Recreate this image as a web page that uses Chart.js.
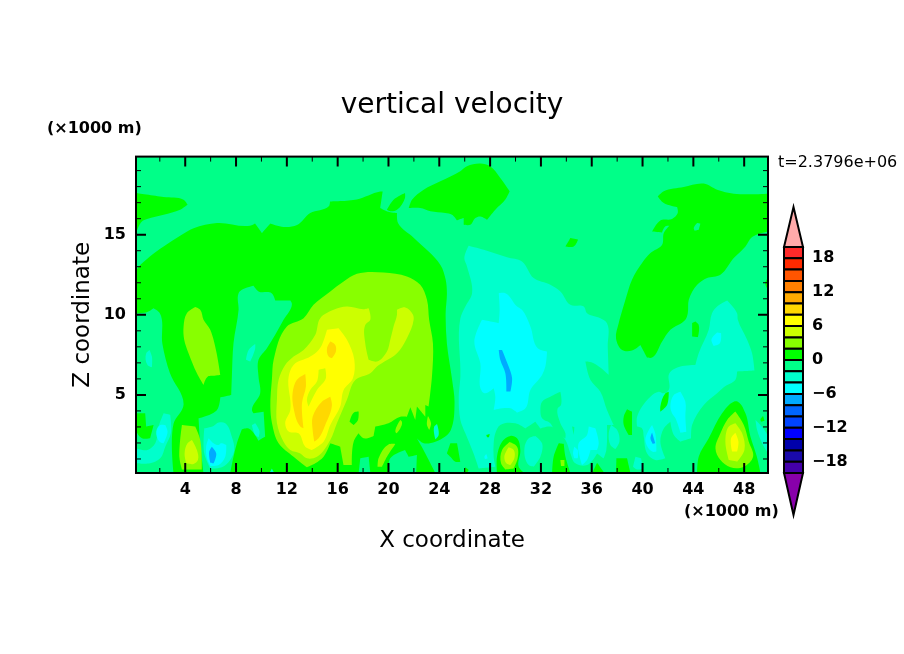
<!DOCTYPE html>
<html><head><meta charset="utf-8">
<style>html,body{margin:0;padding:0;background:#fff;width:904px;height:654px;overflow:hidden}
canvas{position:absolute}</style>
<script src="https://cdn.jsdelivr.net/npm/chart.js@4/dist/chart.umd.js"></script>
</head><body>
<canvas id="main" width="904" height="654" style="left:0;top:0;width:904px;height:654px"></canvas>
<canvas id="bar" width="134" height="330" style="left:770px;top:200px;width:134px;height:330px"></canvas>
<script>
const FONT="'DejaVu Sans'";
const titleText="vertical velocity", xTitle="X coordinate", yTitle="Z coordinate", unitText="(×1000 m)", timeText="t=2.3796e+06";
const xRange=[0.125,49.875], yRange=[0.125,19.875];
const xTicks=[4,8,12,16,20,24,28,32,36,40,44,48];
const xMinor=[2,6,10,14,18,22,26,30,34,38,42,46];
const yTicks=[5,10,15];
const yMinor=[1,2,3,4,6,7,8,9,11,12,13,14,16,17,18,19];
const barTicks=[18,12,6,0,-6,-12,-18];
const levelEdges=[-20,-18,-16,-14,-12,-10,-8,-6,-4,-2,0,2,4,6,8,10,12,14,16,18,20];
const levelColors=['#4400aa','#1a0aaa','#0000aa','#0000ff','#0044ff','#0066ff','#00aaff','#00ffff','#00ffcc','#00ff88','#00ff00','#88ff00','#ccff00','#ffff00','#ffd800','#ffaa00','#ff8000','#ff5500','#ff2a00','#ff2a2a'];
const overColor='#ffaaaa', underColor='#8800aa', overTip=27.08, underTip=-27.43;
const A='#00ff88',G='#00ff00',L='#88ff00',C='#ccff00',Y='#ffff00',O='#ffd800',T='#00ffcc',S='#00ffff',B='#00aaff';

const base=[[0.125,0.125],[49.875,0.125],[49.875,19.875],[0.125,19.875]];
const greenMain=[[0.125,12.7],[1.24,13.65],[2.3,14.27],[3.6,14.93],[4.66,15.4],[6.5,15.73],[9.1,15.56],[9.5,15.7],[10.04,15.1],[10.7,15.7],[11.74,15.48],[12.8,15.6],[13.84,16.35],[15.3,16.77],[15.4,17.08],[17.5,17.2],[19.35,17.7],[19.54,17.7],[19.35,16.66],[19.9,16.45],[20.67,16.35],[20.75,15.73],[22,14.8],[24.1,13.1],[24.5,12.2],[24.6,11.35],[24.5,10.1],[24.6,8.2],[25,6],[25.2,4.5],[24.9,2.8],[24.47,2.4],[23.69,2.08],[22.77,1.98],[22.24,2.29],[22.9,1.35],[23.69,0.125],[3.08,0.125],[3.08,3.2],[3.87,4.4],[2.8,6.35],[2.2,8.2],[2,10.1],[1.5,10.41],[0.98,10.16],[0.125,10.1]];
const greenLeftLow=[[0.125,3.85],[0.85,3.85],[0.93,3.02],[1.51,3.12],[1.24,2.29],[0.59,2.29],[0.125,2.81]];
const greenMidLow=[[24.6,1.35],[24.87,1.98],[25.4,1.98],[25.66,0.83],[25.26,0.83],[24.87,1.14]];
const greenTopLeft=[[0.125,17.6],[2.3,17.35],[3.87,17.18],[4.18,16.87],[3.6,16.56],[2.3,16.25],[1,15.98],[0.59,15.83],[0.125,15.1]];
const greenSliver=[[19.88,16.56],[20.4,17.18],[21.3,17.6],[21.3,17.29],[20.67,16.56],[20.14,16.46]];
const greenIsland=[[21.6,16.66],[21.85,17.18],[22.77,17.81],[24.08,18.33],[25.65,18.96],[26.18,19.27],[27.23,19.44],[28,19.27],[28.8,18.54],[29.54,17.71],[29.2,17.19],[28.41,16.56],[27.76,15.93],[27.23,16.14],[26.84,16.04],[26.44,15.62],[25.92,15.62],[25.92,16.04],[25.39,15.9],[25,16.25],[24.47,16.35],[23.3,16.46],[22.5,16.66]];
const greenDot=[[33.93,14.27],[34.32,14.79],[34.92,14.69],[34.58,14.27]];
const greenRight=[[41.2,17.39],[41.67,17.71],[43.24,17.98],[44.82,18.19],[45.87,17.81],[47.18,17.56],[49.875,17.56],[49.875,15.2],[48.62,14.85],[48.1,14.27],[47.18,13.54],[46.13,12.5],[45.08,12.29],[44.3,11.87],[43.64,10.94],[43.56,10.1],[43.37,9.69],[42.19,9.06],[41.54,8.33],[40.75,7.33],[40.36,7.33],[39.83,8.12],[39.17,7.77],[38.39,7.81],[37.91,8.54],[38.12,9.48],[38.26,9.89],[38.65,10.94],[39.17,12.19],[39.96,13.23],[40.62,13.85],[41.54,14.37],[41.67,15.1],[42.11,15.56],[41.8,15.52],[41.54,15.14],[40.75,15.2],[41.4,15.89],[42.32,15.98],[42.77,16.35],[42.72,16.73],[41.67,16.98]];
const greenEdge=[[49.65,11.98],[49.875,12.3],[49.875,11.56]];
const greenSpot=[[43.9,9.48],[44.16,9.58],[44.42,9.37],[44.35,8.6],[43.9,8.64]];
const holeRight=[[44.03,15.41],[44.3,15.73],[44.55,15.69],[44.42,15.31],[44.11,15.25]];
const patchLeft=[[8.2,11.35],[8.46,11.56],[9.38,11.81],[9.77,11.46],[10.8,11.35],[11.09,10.89],[12.27,10.89],[12.4,10.68],[11.74,9.69],[10.43,7.91],[9.77,7.19],[9.77,6.14],[9.9,5.1],[9.25,4.06],[9.38,3.85],[10.17,3.95],[10.3,2.4],[9.77,2.14],[8.99,2.91],[8.46,2.85],[8.07,1.98],[7.8,1.14],[7.54,0.125],[5.44,0.125],[5.18,1.98],[5.05,3.54],[6.5,4.06],[6.76,4.85],[7.62,5],[7.67,6.14],[7.8,8.23],[8.2,10.31]];
const patchBot1=[[17.65,0.125],[17.78,1.04],[18.44,1.14],[18.57,0.125]];
const patchBot2=[[20,0.125],[20.14,1.04],[21.3,1.56],[21.59,1.14],[22.24,1.25],[22.19,0.125]];
const tealCentre=[[25.97,13.54],[26.31,14.31],[27.5,14.06],[29.33,13.6],[30.51,13.33],[31.43,12.29],[32.74,11.87],[33.53,11.46],[34.32,10.62],[35.37,10.52],[35.63,10.1],[36.68,9.79],[37.2,9.48],[37.26,8.02],[37.34,6.25],[36.15,6.98],[35.5,7.08],[35.9,5.93],[36.68,5.2],[37.2,4.06],[37.73,3.12],[37.2,3.12],[37.15,1.56],[36.94,1.04],[36.42,1.35],[35.63,0.62],[34.71,0.73],[34.32,1.35],[33.93,2.19],[32.8,3.02],[31.96,2.91],[31.56,3.33],[31.17,3.12],[30.78,2.91],[29.99,3.23],[28.8,3.12],[28.41,2.6],[28.28,1.98],[28.28,1.14],[28.41,0.52],[27.1,0.41],[26.7,1.35],[26.05,2.6],[25.66,3.44],[25.53,4.89],[25.66,6.14],[25.66,9.79],[26.05,10.52],[26.58,11.35],[26.18,13.02]];
const tealBlob1=[[30.7,1.66],[31.04,2.29],[31.56,2.44],[32.09,1.98],[31.96,1.14],[31.43,0.52],[31.04,0.62]];
const tealBlob2=[[37.34,2.6],[37.52,3.12],[38,2.81],[38.18,2.08],[37.86,1.62],[37.47,1.87]];
const tealBlob3=[[39.25,0.52],[39.44,1.14],[39.88,1.04],[40.04,0.41],[39.57,0.35]];
const tealRight=[[45.47,10.1],[45.87,10.52],[46.66,10.89],[47.44,10.1],[47.5,9.69],[48.23,8.44],[48.62,7.6],[48.81,6.52],[47.44,6.46],[47.31,5.94],[46.39,5.48],[45.87,5.1],[44.82,4.37],[43.9,3.12],[43.82,2.29],[42.98,2.08],[42.46,2.5],[42.19,3.33],[41.67,2.91],[41.4,2.08],[41.8,1.04],[41,0.94],[40.36,1.35],[40.09,2.4],[39.96,2.91],[39.57,3.02],[39.57,3.64],[40.62,4.89],[41.27,5.2],[41.67,5.1],[42.06,5.31],[42.11,6.35],[42.98,6.77],[44.16,6.87],[44.42,7.6],[45.21,9.06]];
const tealEdge=[[48.89,3.44],[49.15,3.23],[49.875,2.4],[49.875,1.35],[49.41,1.98],[49.02,2.81]];
const tealLeft1=[[0.93,7.6],[1.19,7.81],[1.38,7.39],[1.38,6.73],[1.03,6.87]];
const tealLeft2=[[0.125,1.67],[1.03,1.56],[1.64,1.98],[1.9,3.02],[2.3,3.85],[2.82,3.75],[2.87,2.6],[2.43,1.77],[2.03,1.04],[1.24,0.73],[0.125,0.73]];
const tealLow=[[5.5,2.91],[6.23,3.06],[6.63,3.27],[7.15,3.23],[7.67,2.39],[7.86,1.56],[7.54,0.94],[6.89,0.48],[5.97,0.41],[5.5,1.35]];
const tealStreak=[[8.78,7.19],[8.99,7.81],[9.51,8.18],[9.51,7.91],[9.12,7.08]];
const tealSpot=[[9.25,3.12],[9.51,3.23],[9.85,2.71],[9.77,2.35],[9.51,2.5]];
const tealBot=[[10.64,0.125],[10.82,0.41],[11,0.125]];
const tealSmall=[[23.6,3.02],[23.82,3.19],[23.95,2.5],[23.69,2.23]];
const isle1=[[31.96,4.06],[32.09,4.58],[32.74,4.89],[33.53,5.2],[33.58,4.37],[33.32,4.16],[33.53,3.23],[33.93,2.6],[33.93,2.29],[33,2.91],[32.74,3.23],[32.09,3.54]];
const isle2=[[34.45,3.02],[34.63,2.98],[34.58,2.5]];
const greenC1=[[38.52,3.64],[38.78,4.1],[39.17,3.95],[39.17,2.5],[38.91,2.5],[38.52,3.12]];
const greenC2=[[41.4,4.27],[41.8,5.1],[42.06,5.2],[41.93,4.37],[41.4,3.95]];
const greenC3=[[25.92,0.2],[26.05,0.48],[26.31,0.31],[26.18,0.125]];
const greenC4=[[27.7,2.5],[27.97,2.56],[27.91,2.35],[27.76,2.35]];
const greenC5=[[49.28,3.48],[49.49,3.69],[49.6,3.39],[49.33,3.33]];
const green29=[[28.54,0.125],[28.54,1.14],[28.94,2.08],[29.6,2.44],[30.12,2.29],[30.38,1.56],[30.25,0.52],[30.7,0.125]];
const green33=[[32.88,0.125],[33,1.14],[33.4,1.98],[33.8,1.94],[33.93,1.14],[34.32,0.125]];
const green36=[[36.03,0.125],[36.42,0.77],[37,0.125]];
const green38=[[37.91,0.125],[37.94,1.04],[38.78,1.04],[39.04,0.125]];
const green47=[[44.29,0.125],[44.42,1.14],[45.21,2.29],[46.26,3.85],[47.18,4.58],[47.5,4.58],[48.1,3.85],[48.49,2.4],[49,1.14],[49.28,0.125]];
const limeMain=[[13.32,9.79],[14.1,10.62],[15.42,11.46],[16.47,12.08],[17.52,12.56],[19.62,12.64],[21.45,12.39],[22.5,11.87],[23.03,10.94],[23.2,9.69],[23.5,8.23],[23.42,6.14],[23.16,4.27],[22.9,4.37],[22.9,3.64],[22.24,4.27],[22.11,3.44],[21.72,4.23],[21.45,3.64],[20.93,3.64],[20,3.23],[18.96,3.02],[18.83,2.44],[18.04,2.29],[17.65,2.6],[17.26,2.08],[17.12,0.62],[16.47,0.62],[16.2,1.77],[15.42,1.98],[14.89,1.14],[14.24,0.73],[13.58,0.48],[12.53,1.14],[11.35,1.98],[10.83,3.23],[10.7,4.27],[10.83,6.04],[10.96,7.19],[12,9.27]];
const greenInLime=[[16.94,3.33],[17.26,3.89],[17.65,3.96],[17.6,3.44],[17.26,3.12]];
const lime19=[[19.14,0.52],[19.22,1.04],[20,1.91],[20.54,1.94],[19.88,1.14],[19.49,0.52]];
const lime21=[[20.54,2.71],[20.93,3.44],[21.06,3.33],[20.93,2.91],[20.62,2.6]];
const lime23=[[23.03,3.12],[23.11,3.68],[23.35,3.23],[23.21,2.81]];
const limeUpperLeft=[[4.13,10.1],[4.79,10.48],[5.18,10.31],[5.44,9.69],[5.97,9.06],[6.76,6.25],[6.1,6.19],[5.76,6.14],[5.44,5.62],[4.92,6.35],[4.26,7.6],[3.92,8.44],[3.87,9.27]];
const limeLowerLeft=[[3.55,1.04],[3.74,3.12],[4.79,3.02],[5.18,2.19],[5.31,0.35],[3.74,0.35]];
const lime29=[[28.86,0.73],[28.94,1.56],[29.54,2.06],[30.12,1.77],[30.17,1.04],[29.86,0.41],[29.2,0.35]];
const lime33=[[33.53,0.93],[33.85,0.93],[33.85,0.56],[33.58,0.56]];
const lime47=[[45.74,1.66],[46.13,2.6],[46.66,3.44],[47.31,3.96],[47.97,3.12],[48.36,2.08],[48.7,1.14],[47.97,0.52],[46.92,0.48],[46.13,0.93]];
const chartMain=[[14.63,9.79],[15.68,10.31],[16.73,10.52],[18.04,10.35],[18.44,10.41],[18.57,9.69],[18.17,9.37],[18.17,8.23],[18.44,7.19],[19.09,7.08],[19.88,7.71],[20.14,8.44],[20.4,9.27],[20.67,10],[20.67,10.31],[21.32,10.46],[21.93,10],[21.98,9.69],[21.45,8.54],[20.67,7.6],[19.09,6.77],[18.57,6.35],[17.39,5.93],[16.73,4.69],[15.94,3.23],[15.42,2.19],[14.37,1.14],[13.58,1.04],[13.06,1.35],[12.27,1.56],[11.74,2.08],[11.22,3.23],[11.22,4.69],[11.35,5.94],[11.87,6.87],[12.53,7.39],[13.32,7.81],[14.24,8.75]];
const chart4=[[3.95,1.35],[4.18,1.98],[4.53,2.19],[4.92,1.56],[5,0.94],[4.66,0.69],[4.08,0.73]];
const chart29=[[29.12,1.14],[29.46,1.73],[29.86,1.56],[29.91,1.04],[29.6,0.62],[29.28,0.73]];
const chart47=[[46.52,2.08],[46.79,3.02],[47.31,3.23],[47.84,2.6],[48.02,1.56],[47.44,0.83],[46.79,0.93]];
const yellowMain=[[14.76,8.12],[15.16,9.06],[16.07,9.16],[16.73,8.44],[17.31,7.19],[17.2,6.04],[16.47,5.31],[16.2,4.27],[15.42,3.12],[14.89,2.08],[13.97,1.56],[13.45,1.77],[12.92,2.6],[12.14,2.71],[11.87,3.23],[12.27,4.06],[12.14,6.14],[12.53,6.87],[13.84,7.39],[14.5,7.81]];
const chartInYellow=[[14.37,5.83],[14.5,6.56],[15.02,6.66],[15.07,6.04],[14.37,5.31],[13.71,4.27],[13.58,4.69],[13.84,5.31]];
const yellow47=[[46.97,2.29],[47.31,2.64],[47.55,2.08],[47.44,1.46],[47.05,1.46]];
const gold1=[[12.45,5.1],[12.79,5.94],[13.45,6.31],[13.5,5.52],[13.19,4.48],[13.32,2.91],[13.06,3.02],[12.53,4.16]];
const gold2=[[14.03,3.64],[14.76,4.58],[15.42,4.89],[15.55,4.37],[15.02,3.12],[14.5,2.29],[14.16,2.08],[14.03,2.81]];
const gold3=[[15.16,7.91],[15.42,8.33],[15.81,8.12],[15.86,7.71],[15.55,7.29],[15.29,7.39]];
const cyanCentre=[[28.68,11.35],[29.2,11.35],[30.12,10.52],[30.51,10.31],[31.17,9.27],[31.75,7.91],[32.48,7.71],[32.35,6.77],[32.09,6.25],[31.17,5.31],[30.78,4.16],[30.12,3.89],[29.6,4.16],[28.28,4.06],[28.41,4.89],[28.28,5.41],[27.63,5.1],[27.36,5.21],[27.23,6.98],[26.76,8.33],[27.36,9.69],[28.68,9.48],[28.75,10.31]];
const blueCentre=[[28.68,7.81],[28.94,7.81],[29.46,6.77],[29.73,6.04],[29.6,5.21],[29.28,5.21],[29.2,6.35],[28.8,7.19]];
const cyan43=[[42.19,4.27],[42.46,5],[42.98,5.2],[43.37,4.58],[43.37,3.64],[43.45,2.7],[42.98,2.64],[42.59,3.54],[42.32,3.85]];
const cyan41=[[40.22,2.18],[40.75,3.12],[41,2.6],[41.09,1.46],[40.75,1.46]];
const blue41=[[40.62,2.29],[40.75,2.66],[41,1.98],[40.8,1.94]];
const cyan46=[[45.42,8.44],[45.87,8.89],[46.18,8.85],[46.08,8.23],[45.6,8.06]];
const cyan35=[[34.97,1.98],[35.63,2.5],[35.76,3.02],[36.29,2.91],[36.55,1.98],[36.42,1.56],[35.9,1.56],[35.63,0.93],[35.24,0.62],[35.05,1.14]];
const cyan34=[[34.53,1.35],[34.63,1.77],[34.9,1.56],[34.9,1.04],[34.63,1.04]];
const cyan27=[[27.55,1.14],[27.7,1.31],[27.81,1.04],[27.6,0.98]];
const cyanLeft=[[1.72,2.71],[2.03,3.12],[2.43,3.12],[2.61,2.71],[2.3,1.98],[1.98,2.08]];
const cyan6=[[5.65,1.77],[5.84,2.29],[6.23,1.98],[6.63,1.87],[6.81,1.98],[7.23,1.87],[7.15,1.14],[6.63,0.62],[5.97,0.56],[5.71,1.04]];
const blue6=[[5.89,1.46],[6.1,1.77],[6.44,1.35],[6.23,0.73],[5.97,0.77]];

const layers=[[A,base],
[G,greenMain],[G,greenLeftLow],[G,greenMidLow],[G,greenTopLeft],[G,greenSliver],[G,greenIsland],[G,greenDot],[G,greenRight],[G,greenEdge],[G,greenSpot],
[A,holeRight],[A,patchLeft],[A,patchBot1],[A,patchBot2],
[T,tealCentre],[T,tealBlob1],[T,tealBlob2],[T,tealBlob3],[T,tealRight],[T,tealEdge],[T,tealLeft1],[T,tealLeft2],[T,tealLow],[T,tealStreak],[T,tealSpot],[T,tealBot],[T,tealSmall],
[A,isle1],[A,isle2],
[G,greenC1],[G,greenC2],[G,greenC3],[G,greenC4],[G,greenC5],[G,green29],[G,green33],[G,green36],[G,green38],[G,green47],
[L,limeMain],[G,greenInLime],[L,lime19],[L,lime21],[L,lime23],[L,limeUpperLeft],[L,limeLowerLeft],[L,lime29],[L,lime33],[L,lime47],
[C,chartMain],[C,chart4],[C,chart29],[C,chart47],
[Y,yellowMain],[C,chartInYellow],[Y,yellow47],[O,gold1],[O,gold2],[O,gold3],
[S,cyanCentre],[B,blueCentre],[S,cyan43],[S,cyan41],[B,blue41],[S,cyan46],[S,cyan35],[S,cyan34],[S,cyan27],[S,cyanLeft],[S,cyan6],[B,blue6]];

function tracePath(ctx,pts,smooth){
 const n=pts.length;
 if(!smooth){pts.forEach((p,i)=>i?ctx.lineTo(p.x,p.y):ctx.moveTo(p.x,p.y));ctx.closePath();return;}
 const tang=pts.map((p,i)=>{
  const a=pts[(i+n-1)%n],b=pts[(i+1)%n];
  let ax=p.x-a.x,ay=p.y-a.y,bx=b.x-p.x,by=b.y-p.y;
  const la=Math.hypot(ax,ay)||1,lb=Math.hypot(bx,by)||1;
  ax/=la;ay/=la;bx/=lb;by/=lb;
  if(ax*bx+ay*by<0.5)return null;
  const tx=ax+bx,ty=ay+by,l=Math.hypot(tx,ty)||1;
  return {x:tx/l,y:ty/l};
 });
 ctx.moveTo(pts[0].x,pts[0].y);
 for(let i=0;i<n;i++){
  const p=pts[i],q=pts[(i+1)%n],t0=tang[i],t1=tang[(i+1)%n],h=Math.hypot(q.x-p.x,q.y-p.y)*0.33;
  ctx.bezierCurveTo(p.x+(t0?t0.x*h:0),p.y+(t0?t0.y*h:0),q.x-(t1?t1.x*h:0),q.y-(t1?t1.y*h:0),q.x,q.y);
 }
 ctx.closePath();
}
const polygonFill={id:'polygonFill',
 beforeDatasetDraw(chart,args){
  const ds=chart.data.datasets[args.index],pts=args.meta.data;
  if(!pts.length)return;
  const a=chart.chartArea,ctx=chart.ctx;
  ctx.save();
  if(!ds.outline){ctx.beginPath();ctx.rect(a.left,a.top,a.right-a.left,a.bottom-a.top);ctx.clip();}
  ctx.beginPath();tracePath(ctx,pts,ds.smooth);
  ctx.fillStyle=ds.backgroundColor;ctx.fill();
  if(ds.outline){ctx.lineWidth=ds.outline;ctx.strokeStyle='#000';ctx.lineJoin='miter';ctx.stroke();}
  ctx.restore();
 }};
const frame={id:'frame',
 afterDraw(chart){
  const {ctx,chartArea:a,scales:{x,y}}=chart;
  ctx.save();ctx.strokeStyle='#000';
  const tick=(vals,len,w,horizontal)=>{ctx.lineWidth=w;ctx.beginPath();
   vals.forEach(v=>{
    if(horizontal){const p=x.getPixelForValue(v);ctx.moveTo(p,a.bottom);ctx.lineTo(p,a.bottom-len);ctx.moveTo(p,a.top);ctx.lineTo(p,a.top+len);}
    else{const p=y.getPixelForValue(v);ctx.moveTo(a.left,p);ctx.lineTo(a.left+len,p);ctx.moveTo(a.right,p);ctx.lineTo(a.right-len,p);}
   });ctx.stroke();};
  tick(xMinor,5,1,true);tick(xTicks,10,2,true);tick(yMinor,5,1,false);tick(yTicks,10,2,false);
  ctx.lineWidth=2;ctx.strokeRect(a.left,a.top,a.right-a.left,a.bottom-a.top);
  ctx.fillStyle='#000';ctx.textBaseline='middle';ctx.textAlign='left';
  ctx.font="bold 16px "+FONT;
  ctx.fillText(unitText,47,129);
  ctx.fillText(unitText,684,512);
  ctx.font="16px "+FONT;ctx.fillText(timeText,778,163);
  ctx.restore();
 }};
new Chart(document.getElementById('main'),{
 type:'scatter',
 data:{datasets:layers.map(([c,p],i)=>({data:p.map(([x,y])=>({x,y})),backgroundColor:c,pointRadius:0,showLine:false,order:-i,smooth:i>0}))},
 plugins:[polygonFill,frame],
 options:{responsive:false,animation:false,devicePixelRatio:1,
  layout:{padding:0},
  plugins:{legend:{display:false},tooltip:{enabled:false},
   title:{display:true,text:titleText,color:'#000',font:{family:FONT,size:28,weight:'normal'},padding:{top:89,bottom:34}}},
  scales:{
   x:{type:'linear',min:xRange[0],max:xRange[1],grid:{display:false,drawTicks:false},border:{display:false},
    afterBuildTicks:s=>{s.ticks=xTicks.map(value=>({value}))},
    afterFit:s=>{s.height=181},
    ticks:{autoSkip:false,maxRotation:0,color:'#000',padding:7,font:{family:FONT,size:16,weight:'bold'},callback:v=>String(v)},
    title:{display:true,text:xTitle,color:'#000',font:{family:FONT,size:23},padding:{top:0,bottom:99}}},
   y:{type:'linear',min:yRange[0],max:yRange[1],grid:{display:false,drawTicks:false},border:{display:false},
    afterBuildTicks:s=>{s.ticks=yTicks.map(value=>({value}))},
    afterFit:s=>{s.width=136},
    ticks:{autoSkip:false,color:'#000',padding:10,font:{family:FONT,size:16,weight:'bold'},callback:v=>String(v)},
    title:{display:true,text:yTitle,color:'#000',font:{family:FONT,size:23},padding:{top:69,bottom:0}}},
   spare:{type:'linear',position:'right',axis:'y',display:true,grid:{display:false,drawTicks:false},border:{display:false},ticks:{display:false},afterFit:s=>{s.width=136}}
  }}});
const cells=levelColors.map((c,i)=>({c,p:[[0,levelEdges[i]],[1,levelEdges[i]],[1,levelEdges[i+1]],[0,levelEdges[i+1]]]}));
cells.push({c:overColor,p:[[0,20],[1,20],[0.5,overTip]]});
cells.push({c:underColor,p:[[0,-20],[1,-20],[0.5,underTip]]});
new Chart(document.getElementById('bar'),{
 type:'scatter',
 data:{datasets:cells.map(({c,p})=>({data:p.map(([x,y])=>({x,y})),backgroundColor:c,pointRadius:0,showLine:false,outline:2}))},
 plugins:[polygonFill],
 options:{responsive:false,animation:false,devicePixelRatio:1,clip:false,
  layout:{padding:{left:14,top:7,bottom:15,right:0}},
  plugins:{legend:{display:false},tooltip:{enabled:false},title:{display:false}},
  scales:{
   x:{type:'linear',display:false,min:0,max:1},
   y:{type:'linear',position:'right',min:underTip,max:overTip,grid:{display:false,drawTicks:false},border:{display:false},
    afterBuildTicks:s=>{s.ticks=barTicks.map(value=>({value}))},
    afterFit:s=>{s.width=101;s.paddingTop=0;s.paddingBottom=0},
    ticks:{autoSkip:false,color:'#000',padding:9,font:{family:FONT,size:16,weight:'bold'},callback:v=>String(v).replace('-','\u2212')}}
  }}});
</script>
</body></html>
